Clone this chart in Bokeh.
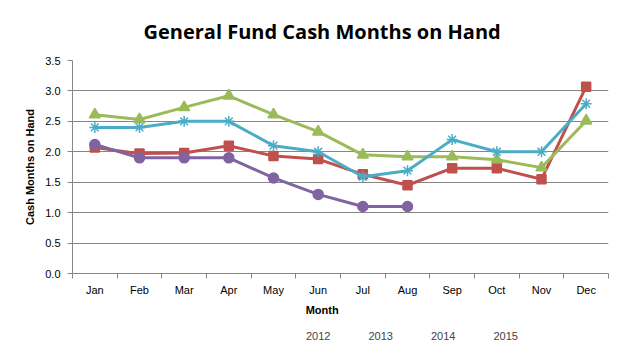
from bokeh.plotting import figure
from bokeh.layouts import column
from bokeh.models import FixedTicker, Legend, LegendItem, NumeralTickFormatter, Range1d
from bokeh.embed import file_html
from bokeh.resources import INLINE
import numpy as np

months = ["Jan", "Feb", "Mar", "Apr", "May", "Jun", "Jul", "Aug", "Sep", "Oct", "Nov", "Dec"]
v2012 = [2.07, 1.97, 1.98, 2.10, 1.93, 1.88, 1.63, 1.45, 1.73, 1.73, 1.55, 3.07]
v2013 = [2.61, 2.53, 2.73, 2.92, 2.61, 2.33, 1.95, 1.92, 1.92, 1.87, 1.74, 2.51]
v2014 = [2.40, 2.40, 2.50, 2.50, 2.10, 2.00, 1.59, 1.69, 2.20, 2.00, 2.00, 2.79]
v2015 = [2.12, 1.90, 1.90, 1.90, 1.57, 1.30, 1.10, 1.10]
y_ticks = [0.0, 0.5, 1.0, 1.5, 2.0, 2.5, 3.0, 3.5]

FONT = "Liberation Sans"

p = figure(frame_width=536, frame_height=213, output_backend="svg", toolbar_location=None,
           x_range=Range1d(0, len(months)), y_range=Range1d(0, 3.5),
           min_border_left=72, min_border_right=30, min_border_top=59, min_border_bottom=0)

p.title.text = "General Fund Cash Months on Hand"
p.title.text_font = "Open Sans"
p.title.text_font_size = "20px"
p.title.text_font_style = "bold"
p.title.text_color = "#000000"
p.title.align = "left"
p.title.offset = 71
p.title.standoff = 31

x_all = list(np.arange(len(months)) + 0.5)

series = [
    ("2012", v2012, "#C0504D", "square", 9),
    ("2013", v2013, "#9BBB59", "triangle", 11),
    ("2014", v2014, "#4BACC6", "asterisk", 11),
    ("2015", v2015, "#8064A2", "circle", 10),
]

# legend strip (separate figure placed under the chart)
q = figure(width=642, height=32, output_backend="svg", toolbar_location=None,
           x_range=Range1d(0, 1), y_range=Range1d(0, 1),
           min_border_left=0, min_border_right=0, min_border_top=0, min_border_bottom=0)
q.xaxis.visible = False
q.yaxis.visible = False
q.xgrid.grid_line_color = None
q.ygrid.grid_line_color = None
q.outline_line_color = None

items = []
for name, vals, col, mk, sz in series:
    xs = x_all[:len(vals)]
    p.line(xs, vals, line_color=col, line_width=3)
    p.scatter(xs, vals, marker=mk, size=sz, fill_color=col, line_color=col, line_width=1.5)
    lr = q.line([], [], line_color=col, line_width=3)
    items.append(LegendItem(label=name, renderers=[lr]))

# x axis
xt = FixedTicker(ticks=x_all, minor_ticks=list(range(len(months) + 1)))
p.xaxis.ticker = xt
p.xaxis.major_label_overrides = {x: m for x, m in zip(x_all, months)}
p.xaxis.major_tick_out = 0
p.xaxis.major_tick_in = 0
p.xaxis.minor_tick_out = 5
p.xaxis.minor_tick_in = 0
p.xaxis.axis_label = "Month" + "\u00a0" * 12

# y axis
p.yaxis.ticker = FixedTicker(ticks=y_ticks, minor_ticks=[])
p.yaxis.formatter = NumeralTickFormatter(format="0.0")
p.yaxis.major_tick_out = 5
p.yaxis.major_tick_in = 0
p.yaxis.axis_label = "Cash Months on Hand"

for ax in [p.xaxis[0], p.yaxis[0]]:
    ax.axis_line_color = "#868686"
    ax.major_tick_line_color = "#868686"
    ax.minor_tick_line_color = "#868686"
    ax.major_label_text_font = FONT
    ax.major_label_text_font_size = "11px"
    ax.major_label_text_color = "#000000"
    ax.axis_label_text_font = FONT
    ax.axis_label_text_font_size = "11px"
    ax.axis_label_text_font_style = "bold"
    ax.axis_label_text_color = "#000000"

p.xaxis.major_label_standoff = 5
p.xaxis.axis_label_standoff = 5
p.yaxis.major_label_standoff = 7
p.yaxis.axis_label_standoff = 6

p.xgrid.grid_line_color = None
p.ygrid.ticker = FixedTicker(ticks=y_ticks)
p.ygrid.grid_line_color = "#868686"
p.ygrid.grid_line_width = 1
p.outline_line_color = None

legend = Legend(items=items, orientation="horizontal", location=(204, 8),
                label_text_font=FONT, label_text_font_size="11px",
                label_height=12, glyph_width=28, glyph_height=10, label_standoff=2, spacing=8,
                border_line_color=None, background_fill_alpha=0, margin=0, padding=2)
q.add_layout(legend, "center")

layout = column(p, q, spacing=0)
open("out.html", "w").write(file_html(layout, INLINE))
